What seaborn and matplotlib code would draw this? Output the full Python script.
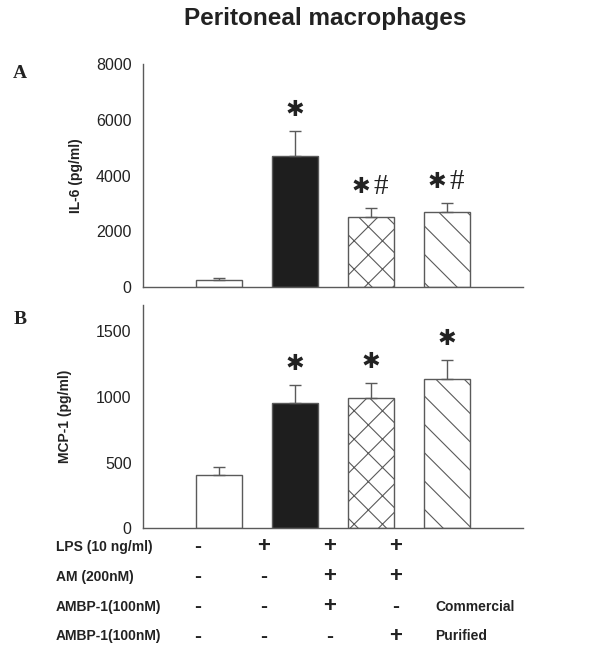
import pandas as pd
import matplotlib
matplotlib.use("Agg")
import matplotlib.pyplot as plt
import seaborn as sns

# Figure is rendered at 85 dpi so that the hatch spacing matches the original;
# point sizes are scaled by S so they look as they would at 100 dpi.
DPI = 85
S = 100 / DPI
IMAGE_SIZE = (590 / DPI, 655 / DPI)

# Data
groups = ["Control", "LPS", "LPS+AM+AMBP-1 (commercial)", "LPS+AM+AMBP-1 (purified)"]
il6_mean = [250, 4700, 2520, 2700]
il6_sem = [60, 880, 300, 300]
il6_star = [False, True, True, True]
il6_hash = [False, False, True, True]
mcp1_mean = [405, 955, 990, 1140]
mcp1_sem = [60, 135, 115, 140]
mcp1_star = [False, True, True, True]
mcp1_hash = [False, False, False, False]

bar_colors = ["white", "#1e1e1e", "white", "white"]
bar_hatches = ["", "", "x", "\\"]

row_labels = ["LPS (10 ng/ml)", "AM (200nM)", "AMBP-1(100nM)", "AMBP-1(100nM)"]
row_signs = [["-", "+", "+", "+"],
             ["-", "-", "+", "+"],
             ["-", "-", "+", "-"],
             ["-", "-", "-", "+"]]
row_notes = ["", "", "Commercial", "Purified"]

EDGE = "#5a5a5a"
INK = "#222222"


def draw_panel(ax, means, sems, stars, hashes, ylim, yticks, ylabel):
    df = pd.DataFrame({"group": groups, "value": means})
    sns.barplot(data=df, x="group", y="value", hue="group", order=groups,
                palette=dict(zip(groups, bar_colors)), legend=False,
                width=0.6, edgecolor=EDGE, linewidth=1.0 * S, ax=ax)
    for patch, hatch in zip(ax.patches, bar_hatches):
        patch.set_hatch(hatch)
    xs = list(range(len(groups)))
    ax.errorbar(xs, means, yerr=[[0] * len(sems), sems], fmt="none",
                ecolor=EDGE, elinewidth=1.0 * S, capsize=4 * S, capthick=1.0 * S, zorder=1)
    # significance marks: * vs control, # vs LPS
    for x, m, s, star, hsh in zip(xs, means, sems, stars, hashes):
        dx = -7.5 * S if hsh else 0
        if star:
            ax.annotate("\u2731", xy=(x, m + s), xytext=(dx, 8 * S), textcoords="offset points",
                        ha="center", va="bottom", fontsize=16 * S,
                        family=["DejaVu Sans"], color=INK)
        if hsh:
            ax.annotate("#", xy=(x, m + s), xytext=(7 * S, 6 * S), textcoords="offset points",
                        ha="center", va="bottom", fontsize=21 * S,
                        family=["Liberation Serif"], color=INK)
    ax.set_xlim(-1, len(groups))
    ax.set_xticks(range(-1, len(groups) + 1))
    ax.set_xticklabels([])
    ax.set_ylim(*ylim)
    ax.set_yticks(yticks)
    ax.set_xlabel("")
    ax.set_ylabel(ylabel, fontsize=10 * S, fontweight="bold", color=INK)
    for side in ["top", "right"]:
        ax.spines[side].set_visible(False)
    for side in ["left", "bottom"]:
        ax.spines[side].set_color(EDGE)
        ax.spines[side].set_linewidth(1.0 * S)
    ax.tick_params(axis="both", direction="out", length=5 * S, width=1.0 * S,
                   color=EDGE, labelsize=11.5 * S, labelcolor=INK, pad=3 * S)


def main():
    sns.set_style("white")
    plt.rcParams["font.family"] = ["Liberation Sans", "DejaVu Sans"]
    plt.rcParams["hatch.color"] = EDGE
    plt.rcParams["hatch.linewidth"] = 0.8 * S

    fig = plt.figure(figsize=IMAGE_SIZE, dpi=DPI)
    ax_a = fig.add_axes([0.242, 0.5618, 0.645, 0.3405])
    ax_b = fig.add_axes([0.242, 0.1934, 0.645, 0.3410])

    draw_panel(ax_a, il6_mean, il6_sem, il6_star, il6_hash, (0, 8000),
               [0, 2000, 4000, 6000, 8000], "IL-6 (pg/ml)")
    draw_panel(ax_b, mcp1_mean, mcp1_sem, mcp1_star, mcp1_hash, (0, 1700),
               [0, 500, 1000, 1500], "MCP-1 (pg/ml)")
    ax_a.yaxis.set_label_coords(-0.157, 0.5)
    ax_b.yaxis.set_label_coords(-0.186, 0.5)

    fig.text(325 / 590, 1 - 18 / 655, "Peritoneal macrophages", ha="center",
             va="center", fontsize=17.5 * S, fontweight="bold", color=INK)
    fig.text(20 / 590, 1 - 74 / 655, "A", ha="center", va="center",
             fontsize=14 * S, fontweight="bold", family=["Liberation Serif"], color=INK)
    fig.text(20 / 590, 1 - 320 / 655, "B", ha="center", va="center",
             fontsize=14 * S, fontweight="bold", family=["Liberation Serif"], color=INK)

    # Treatment table under the panels
    row_y = [547, 577, 607, 636]
    col_x = [198, 264, 330, 396]
    for y, label, signs, note in zip(row_y, row_labels, row_signs, row_notes):
        fy = 1 - y / 655
        fig.text(56 / 590, fy, label, ha="left", va="center",
                 fontsize=10 * S, fontweight="bold", color=INK)
        for x, sign in zip(col_x, signs):
            fig.text(x / 590, fy, sign, ha="center", va="center",
                     fontsize=(16 if sign == "+" else 15) * S, fontweight="bold", color=INK)
        if note:
            fig.text(435 / 590, fy, note, ha="left", va="center",
                     fontsize=10 * S, fontweight="bold", color=INK)

    fig.savefig("out.png", dpi=DPI)
    plt.close(fig)


if __name__ == "__main__":
    main()
